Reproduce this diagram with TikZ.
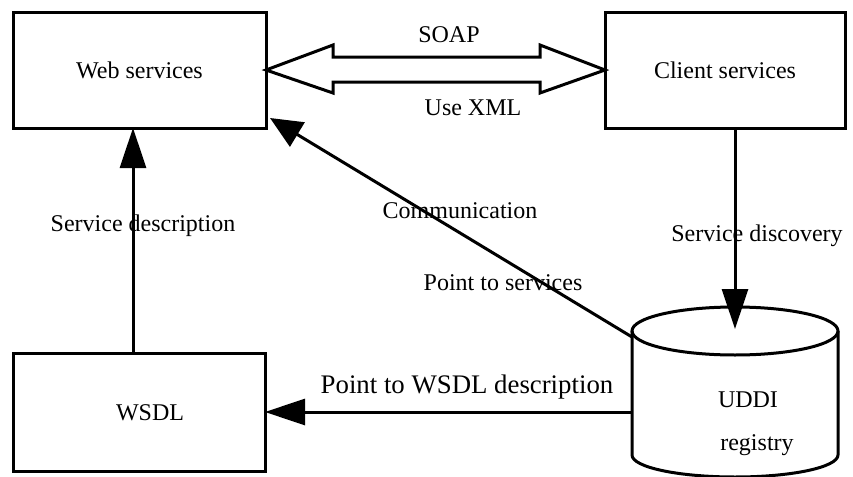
\documentclass[tikz,border=0pt]{standalone}
\usepackage{fontspec}
\setmainfont{Liberation Serif}
\usetikzlibrary{arrows.meta,calc}
\begin{document}
\begin{tikzpicture}[x=0.5pt,y=0.5pt,
  box/.style={draw,line width=1.5pt,rectangle,inner sep=0pt,outer sep=0pt},
  txt/.style={anchor=base,inner sep=0pt,font=\fontsize{12pt}{14pt}\selectfont},
  arr/.style={line width=1.5pt,-{Triangle[length=20pt,width=13pt]}},
  arrd/.style={line width=1.5pt,-{Triangle[length=16pt,width=14pt]}}]
\useasboundingbox (0,0) rectangle (853,-477);

% boxes
\node[box,minimum width=126.5pt,minimum height=58pt,font=\fontsize{12pt}{14pt}\selectfont] (web) at (139.5,-70) {Web services};
\node[box,minimum width=120pt,minimum height=58pt,font=\fontsize{12pt}{14pt}\selectfont] (client) at (725,-70) {Client services};
\node[box,minimum width=126pt,minimum height=59pt] (wsdl) at (139,-412) {};
\node[txt] (wsdltxt) at (150,-420) {WSDL};

% UDDI registry cylinder
\filldraw[fill=white,line width=1.5pt] (632,-331) -- (632,-455)
  arc[start angle=180,end angle=360,x radius=103,y radius=22] -- (838,-331);
\draw[line width=1.5pt] (735,-331) ellipse [x radius=103,y radius=24];
\node[txt] (uddi) at (748,-407) {UDDI};
\node[txt] (registry) at (757,-450) {registry};
\coordinate (cyltop) at (735,-329);
\coordinate (cylleft) at (632,-412);
\coordinate (cylnw) at (632,-337);
\coordinate (commtip) at (270,-118);

% SOAP double arrow
\draw[line width=1.5pt,fill=white] (web.east) -- (333,-45) -- (333,-57) -- (540,-57)
  -- (540,-45) -- (client.west) -- (540,-93) -- (540,-82) -- (333,-82)
  -- (333,-93) -- cycle;
\node[txt] (soap) at (449,-42) {SOAP};
\node[txt] (usexml) at (473,-115) {Use XML};

% connectors
\draw[arr] ([xshift=60pt]wsdl.north west) -- ([xshift=60pt]web.south west);
\draw[arr] ([xshift=5pt]client.south) -- (cyltop);
\draw[arr] (cylleft) -- (wsdl.east);
\draw[arrd] (cylnw) -- (commtip);

% labels
\node[txt] (sdesc) at (143,-231) {Service description};
\node[txt] (sdisc) at (757,-241) {Service discovery};
\node[txt] (comm) at (460,-218) {Communication};
\node[txt] (pts) at (503,-290) {Point to services};
\node[txt,font=\fontsize{13.4pt}{16pt}\selectfont] (ptw) at (467,-393) {Point to WSDL description};
\end{tikzpicture}
\end{document}
